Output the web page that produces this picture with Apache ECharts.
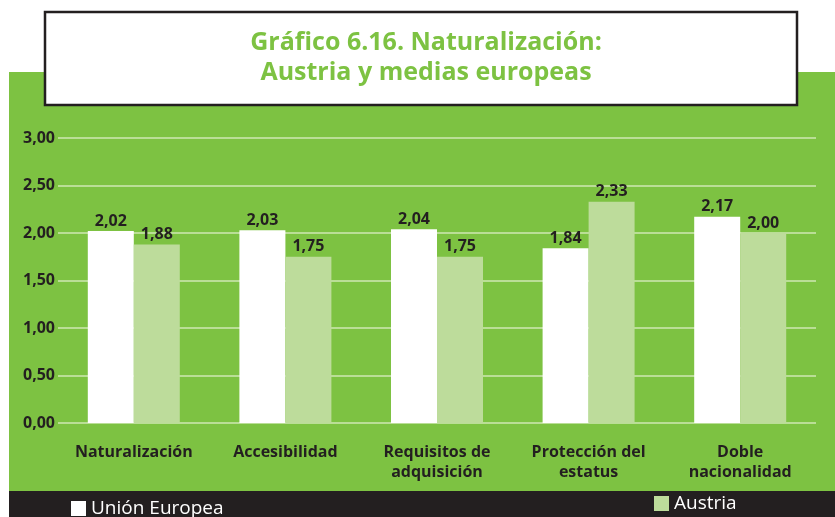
<!DOCTYPE html>
<html><head><meta charset="utf-8">
<script src="https://cdn.jsdelivr.net/npm/echarts@6/dist/echarts.min.js"></script>
<style>html,body{margin:0;padding:0;background:#fff}#c{width:835px;height:517px}</style>
</head><body><div id="c"></div>
<script>
const categories = ['Naturalización', 'Accesibilidad', 'Requisitos de\nadquisición', 'Protección del\nestatus', 'Doble\nnacionalidad'];
const ueValues = [2.02, 2.03, 2.04, 1.84, 2.17];
const austriaValues = [1.88, 1.75, 1.75, 2.33, 2.00];
const yTicks = [0, 0.5, 1, 1.5, 2, 2.5, 3];
const seriesNames = ['Unión Europea', 'Austria'];
const titleText = 'Gráfico 6.16. Naturalización:\nAustria y medias europeas';

const GREEN = '#7dc242', LIGHT = '#bddc9b', DARK = '#231f20';
const FONT = '"Open Sans", "DejaVu Sans", sans-serif';
const fmt = v => v.toFixed(2).replace('.', ',');

const chart = echarts.init(document.getElementById('c'));
chart.setOption({
  animation: false,
  textStyle: { fontFamily: FONT },
  graphic: [
    { type: 'rect', z: -10, silent: true, shape: { x: 9, y: 72, width: 826, height: 419 }, style: { fill: GREEN } },
    { type: 'rect', z: -10, silent: true, shape: { x: 9, y: 491, width: 826, height: 26 }, style: { fill: DARK } },
    { type: 'rect', z: -5, silent: true, shape: { x: 45, y: 12, width: 752, height: 93 }, style: { fill: '#fff', stroke: DARK, lineWidth: 2.5 } }
  ],
  title: {
    text: titleText, left: 421, textAlign: 'center', top: 23,
    textStyle: { color: GREEN, fontSize: 25, fontWeight: 'bold', lineHeight: 30, fontFamily: FONT }
  },
  legend: [
    { data: [seriesNames[0]], left: 71, top: 499, padding: 0, itemWidth: 15, itemHeight: 15, icon: 'rect', itemGap: 8,
      textStyle: { color: '#fff', fontSize: 19, fontFamily: FONT, padding: [4, 0, 0, 0] } },
    { data: [seriesNames[1]], left: 654, top: 494, padding: 0, itemWidth: 15, itemHeight: 15, icon: 'rect', itemGap: 8,
      textStyle: { color: '#fff', fontSize: 19, fontFamily: FONT, padding: [4, 0, 0, 0] } }
  ],
  grid: { left: 58, right: 19, top: 138, bottom: 94 },
  xAxis: {
    type: 'category', data: categories,
    axisLine: { show: false }, axisTick: { show: false },
    axisLabel: { color: DARK, fontSize: 16, fontWeight: 'bold', lineHeight: 20, margin: 19, interval: 0, fontFamily: FONT }
  },
  yAxis: {
    type: 'value', min: 0, max: 3, interval: 0.5,
    axisLine: { show: false }, axisTick: { show: false },
    axisLabel: { color: DARK, fontSize: 16, fontWeight: 'bold', margin: 3, formatter: v => fmt(v), fontFamily: FONT,
      customValues: yTicks },
    splitLine: { lineStyle: { color: '#cfe7b3', width: 1.5 } }
  },
  series: [
    { name: seriesNames[0], type: 'bar', data: ueValues, barWidth: 46, barGap: '0%',
      itemStyle: { color: '#ffffff' },
      label: { show: true, position: 'top', distance: 2, color: DARK, fontSize: 16, fontWeight: 'bold', formatter: p => fmt(p.value), fontFamily: FONT } },
    { name: seriesNames[1], type: 'bar', data: austriaValues, barWidth: 46, barGap: '0%',
      itemStyle: { color: LIGHT },
      label: { show: true, position: 'top', distance: 2, color: DARK, fontSize: 16, fontWeight: 'bold', formatter: p => fmt(p.value), fontFamily: FONT } }
  ]
});
</script></body></html>
